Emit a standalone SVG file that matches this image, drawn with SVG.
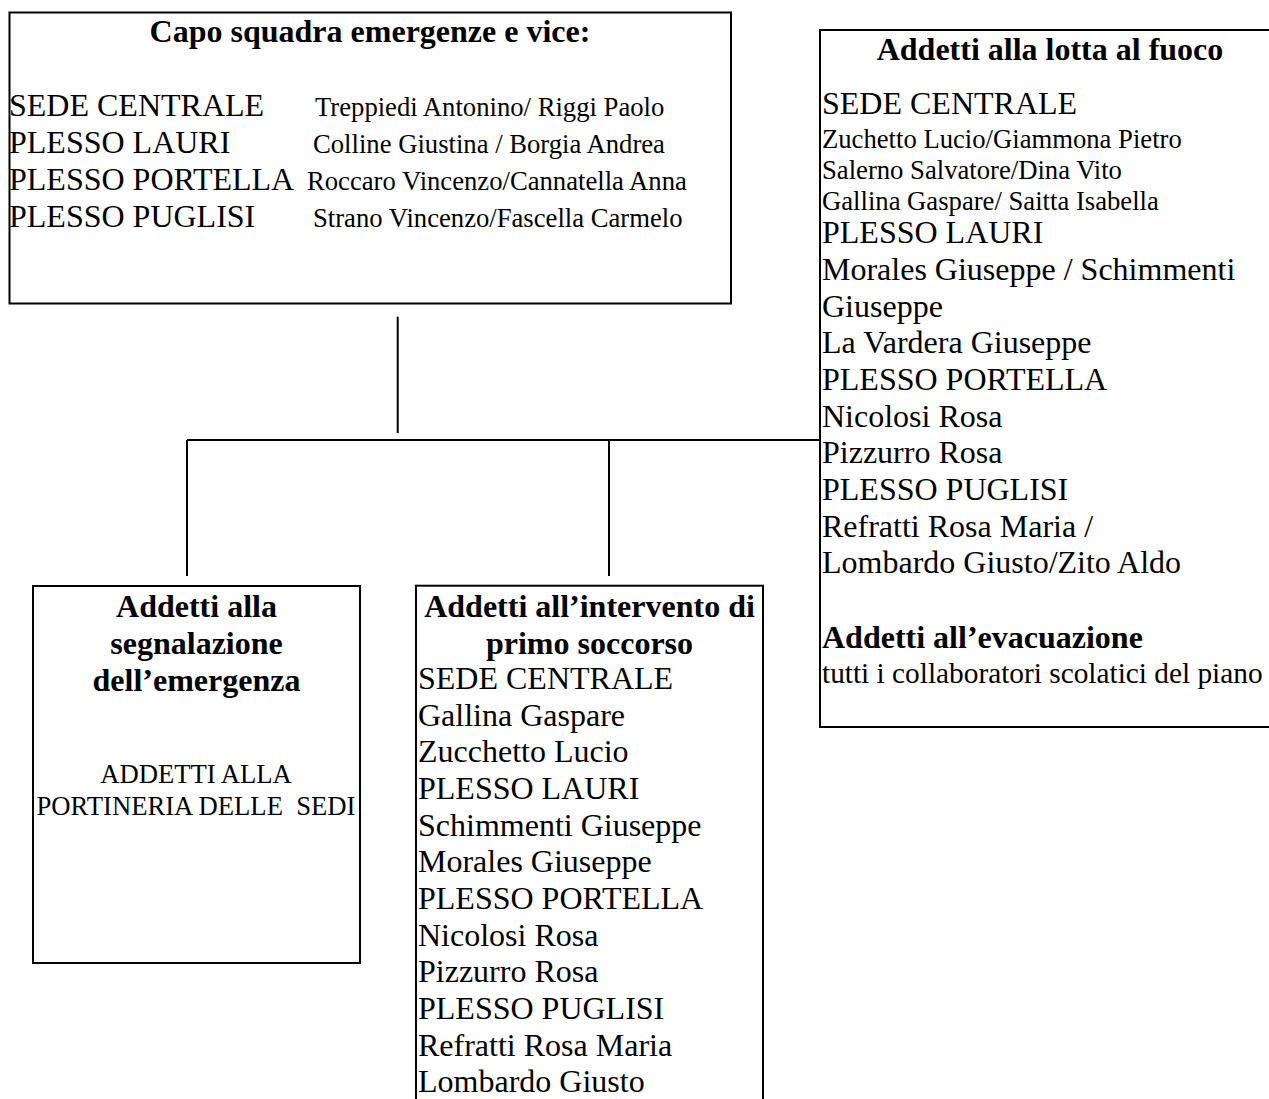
<svg xmlns="http://www.w3.org/2000/svg" width="1269" height="1099" viewBox="0 0 1269 1099">
<style>
  text { font-family: "Liberation Serif", "Times New Roman", serif; fill: #000; }
  .t { font-weight: bold; font-size: 32px; text-anchor: middle; }
  .big { font-size: 32px; }
  .sm { font-size: 26.67px; }
  .md { font-size: 29.33px; }
  .c { text-anchor: middle; }
  .box { fill: #fff; stroke: #000; stroke-width: 2; }
  .conn line { stroke: #000; stroke-width: 2; }
</style>
<rect width="1269" height="1099" fill="#fff"/>

<g id="connectors" class="conn">
  <line x1="397.7" y1="316.7" x2="397.7" y2="433"/>
  <line x1="187" y1="440" x2="820" y2="440"/>
  <line x1="187" y1="440" x2="187" y2="576"/>
  <line x1="609" y1="440" x2="609" y2="576"/>
</g>

<g id="capo-squadra">
  <rect class="box" x="9.5" y="12.5" width="721.5" height="291"/>
  <text class="t" x="370" y="42">Capo squadra emergenze e vice:</text>
  <text class="big" x="9" y="116">SEDE CENTRALE</text>
  <text class="sm" x="315" y="116">Treppiedi Antonino/ Riggi Paolo</text>
  <text class="big" x="9" y="152.5">PLESSO LAURI</text>
  <text class="sm" x="313" y="152.5">Colline Giustina / Borgia Andrea</text>
  <text class="big" x="9" y="189.5">PLESSO PORTELLA</text>
  <text class="sm" x="307" y="189.5">Roccaro Vincenzo/Cannatella Anna</text>
  <text class="big" x="9" y="226.5">PLESSO PUGLISI</text>
  <text class="sm" x="313" y="226.5">Strano Vincenzo/Fascella Carmelo</text>
</g>

<g id="lotta-fuoco">
  <rect class="box" x="820" y="30" width="470" height="697"/>
  <text class="t" x="1050" y="60">Addetti alla lotta al fuoco</text>
  <text class="big" x="822" y="114">SEDE CENTRALE</text>
  <text class="sm" x="822" y="148">Zuchetto Lucio/Giammona Pietro</text>
  <text class="sm" x="822" y="179">Salerno Salvatore/Dina Vito</text>
  <text class="sm" x="822" y="209.5">Gallina Gaspare/ Saitta Isabella</text>
  <text class="big" x="822" y="243.3">PLESSO LAURI</text>
  <text class="big" x="822" y="280">Morales Giuseppe / Schimmenti</text>
  <text class="big" x="822" y="316.7">Giuseppe</text>
  <text class="big" x="822" y="353.3">La Vardera Giuseppe</text>
  <text class="big" x="822" y="390">PLESSO PORTELLA</text>
  <text class="big" x="822" y="426.7">Nicolosi Rosa</text>
  <text class="big" x="822" y="463.3">Pizzurro Rosa</text>
  <text class="big" x="822" y="500">PLESSO PUGLISI</text>
  <text class="big" x="822" y="536.7">Refratti Rosa Maria /</text>
  <text class="big" x="822" y="573.3">Lombardo Giusto/Zito Aldo</text>
  <text class="big" x="822" y="648" font-weight="bold">Addetti all’evacuazione</text>
  <text class="md" x="822" y="683">tutti i collaboratori scolatici del piano</text>
</g>

<g id="segnalazione">
  <rect class="box" x="33" y="586" width="327" height="377"/>
  <text class="t" x="196.5" y="617">Addetti alla</text>
  <text class="t" x="196.5" y="654">segnalazione</text>
  <text class="t" x="196.5" y="691">dell’emergenza</text>
  <text class="sm c" x="196" y="783">ADDETTI ALLA</text>
  <text class="sm c" x="196" y="815" xml:space="preserve">PORTINERIA DELLE  SEDI</text>
</g>

<g id="primo-soccorso">
  <rect class="box" x="416" y="585.7" width="347" height="530"/>
  <text class="t" x="589.5" y="617">Addetti all’intervento di</text>
  <text class="t" x="589.5" y="654">primo soccorso</text>
  <text class="big" x="418" y="689">SEDE CENTRALE</text>
  <text class="big" x="418" y="725.7">Gallina Gaspare</text>
  <text class="big" x="418" y="762.3">Zucchetto Lucio</text>
  <text class="big" x="418" y="799">PLESSO LAURI</text>
  <text class="big" x="418" y="835.7">Schimmenti Giuseppe</text>
  <text class="big" x="418" y="872.3">Morales Giuseppe</text>
  <text class="big" x="418" y="909">PLESSO PORTELLA</text>
  <text class="big" x="418" y="945.7">Nicolosi Rosa</text>
  <text class="big" x="418" y="982.3">Pizzurro Rosa</text>
  <text class="big" x="418" y="1019">PLESSO PUGLISI</text>
  <text class="big" x="418" y="1055.7">Refratti Rosa Maria</text>
  <text class="big" x="418" y="1092.3">Lombardo Giusto</text>
</g>
</svg>
